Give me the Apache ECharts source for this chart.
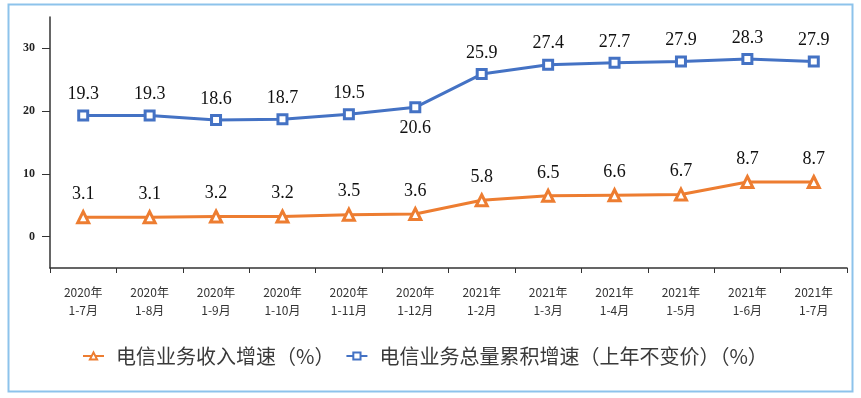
<!DOCTYPE html>
<html>
<head>
<meta charset="utf-8">
<script src="https://cdn.jsdelivr.net/npm/echarts@6/dist/echarts.min.js"></script>
<style>
html,body{margin:0;padding:0;background:#fff;}
#chart{width:861px;height:398px;}
</style>
</head>
<body>
<div id="chart"></div>
<script>
const categories = ['2020年\n1-7月','2020年\n1-8月','2020年\n1-9月','2020年\n1-10月','2020年\n1-11月','2020年\n1-12月','2021年\n1-2月','2021年\n1-3月','2021年\n1-4月','2021年\n1-5月','2021年\n1-6月','2021年\n1-7月'];
const revenueGrowth = [3.1,3.1,3.2,3.2,3.5,3.6,5.8,6.5,6.6,6.7,8.7,8.7];
const volumeGrowth = [19.3,19.3,18.6,18.7,19.5,20.6,25.9,27.4,27.7,27.9,28.3,27.9];
const yTicks = [0,10,20,30];
const seriesNames = ['电信业务收入增速（%）','电信业务总量累积增速（上年不变价）（%）'];

const chart = echarts.init(document.getElementById('chart'));
const labelFont = {fontFamily:'Liberation Serif', fontSize:18, color:'#111'};
const volumeData = volumeGrowth.map((v,i)=> i===5 ? {value:v, label:{position:'bottom', distance:6}} : v);
chart.setOption({
  animation:false,
  graphic:[{type:'rect', shape:{x:8.5,y:4.5,width:844,height:387}, style:{fill:'none', stroke:'#8DC3EB', lineWidth:2}, silent:true}],
  grid:{left:50, right:14, top:17, bottom:130},
  legend:{
    left:77, top:341, itemGap:11, itemWidth:21, itemHeight:9,
    textStyle:{fontFamily:'Noto Sans CJK SC', fontSize:20, color:'#3a3a3a', padding:[0,0,0,7]},
    data:seriesNames
  },
  xAxis:{
    type:'category', data:categories, boundaryGap:true,
    axisLine:{onZero:false, lineStyle:{color:'#333', width:1.5}},
    axisTick:{show:true, length:5, lineStyle:{color:'#333'}},
    axisLabel:{fontFamily:'Noto Sans CJK SC', fontSize:12, color:'#333', lineHeight:18, margin:15, interval:0}
  },
  yAxis:{
    type:'value', min:-5, max:35,
    splitLine:{show:false},
    axisLine:{show:true, lineStyle:{color:'#333', width:1.5}},
    axisTick:{show:true, length:8, customValues:yTicks, lineStyle:{color:'#333'}},
    axisLabel:{customValues:yTicks, fontFamily:'Liberation Serif', fontWeight:'bold', fontSize:12, color:'#222', margin:15}
  },
  series:[
    {
      name:seriesNames[0], type:'line', data:revenueGrowth,
      symbol:'triangle', symbolSize:11, showAllSymbol:true,
      itemStyle:{color:'#fff', borderColor:'#ED7D31', borderWidth:3},
      lineStyle:{color:'#ED7D31', width:3},
      label:{show:true, position:'top', distance:7, ...labelFont}
    },
    {
      name:seriesNames[1], type:'line', data:volumeData,
      symbol:'rect', symbolSize:9, showAllSymbol:true,
      itemStyle:{color:'#fff', borderColor:'#4472C4', borderWidth:3},
      lineStyle:{color:'#4472C4', width:3},
      label:{show:true, position:'top', distance:6, ...labelFont}
    }
  ]
});
</script>
</body>
</html>
